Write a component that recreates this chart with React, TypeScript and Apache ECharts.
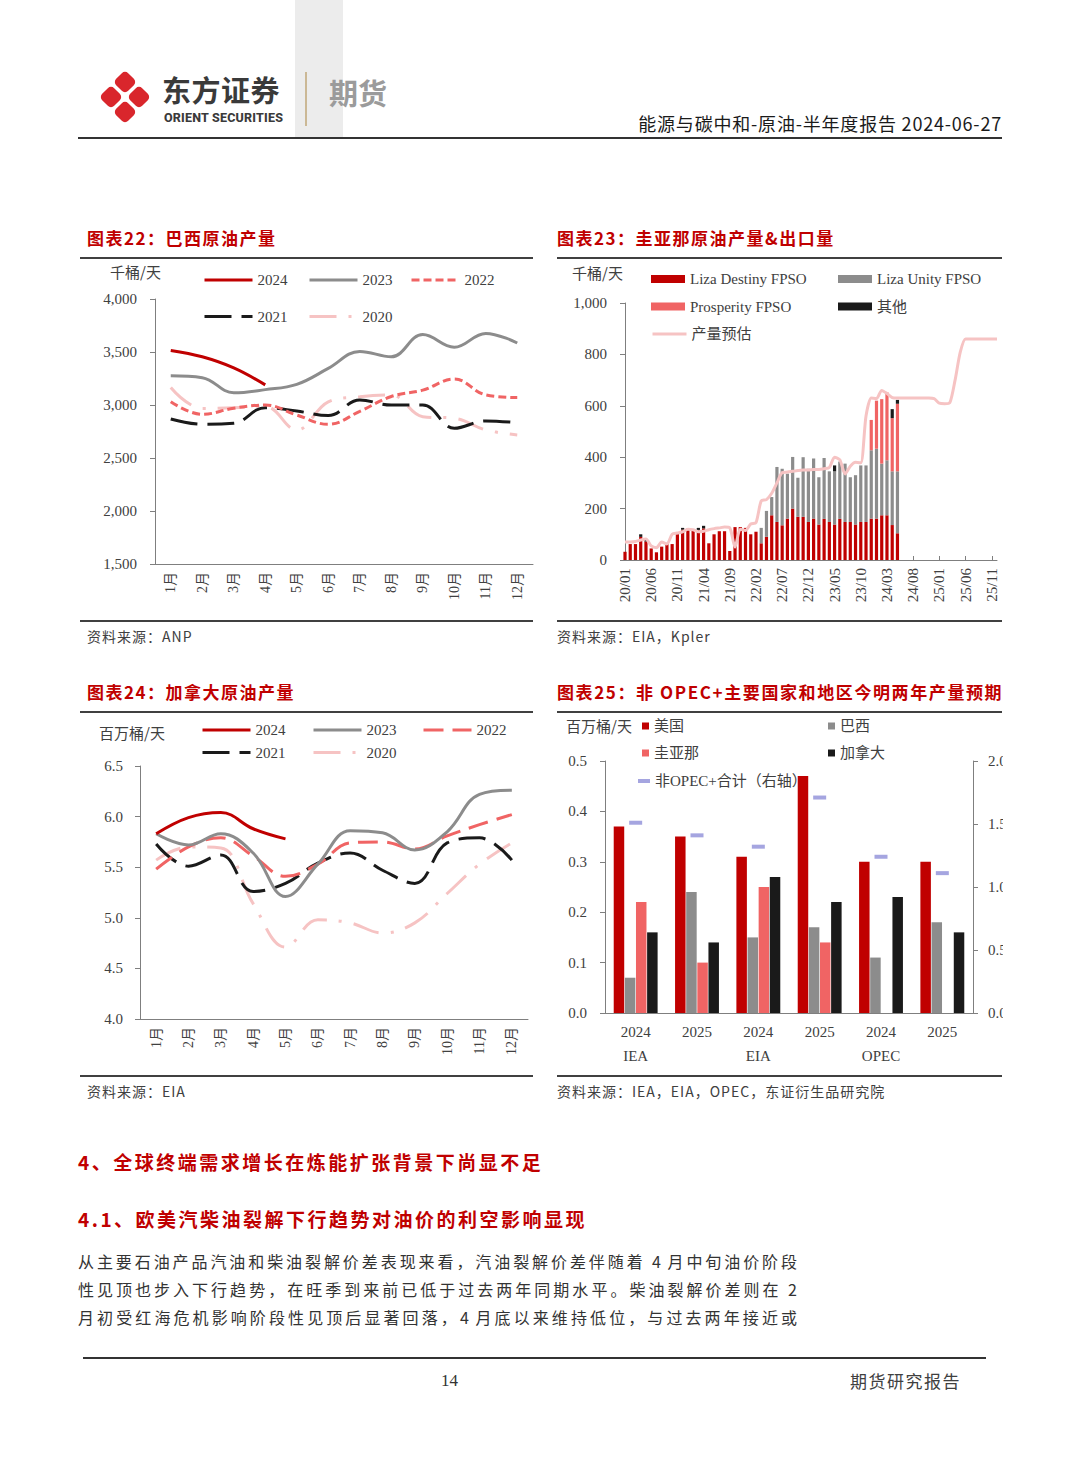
import React, { useEffect, useRef } from 'react';
import * as echarts from 'echarts';

// ---------- DATA ----------
const months = ['1月', '2月', '3月', '4月', '5月', '6月', '7月', '8月', '9月', '10月', '11月', '12月'];

// 图表22 巴西原油产量 (千桶/天)
const brazil2024 = [3515, 3455, 3350, 3190];
const brazil2023 = [3275, 3258, 3115, 3145, 3195, 3345, 3505, 3455, 3665, 3545, 3675, 3585];
const brazil2022 = [3030, 2912, 2970, 3000, 2905, 2818, 2940, 3080, 3140, 3245, 3095, 3070];
const brazil2021 = [2868, 2818, 2828, 2975, 2943, 2900, 3047, 3000, 3000, 2780, 2850, 2833];
const brazil2020 = [3165, 2968, 2975, 2985, 2765, 3030, 3078, 3094, 2890, 2875, 2765, 2718];

// 图表23 圭亚那原油产量 (千桶/天), monthly 20/01 .. 25/12
const guyanaMonths = [
  '20/01', '20/02', '20/03', '20/04', '20/05', '20/06', '20/07', '20/08', '20/09', '20/10', '20/11', '20/12',
  '21/01', '21/02', '21/03', '21/04', '21/05', '21/06', '21/07', '21/08', '21/09', '21/10', '21/11', '21/12',
  '22/01', '22/02', '22/03', '22/04', '22/05', '22/06', '22/07', '22/08', '22/09', '22/10', '22/11', '22/12',
  '23/01', '23/02', '23/03', '23/04', '23/05', '23/06', '23/07', '23/08', '23/09', '23/10', '23/11', '23/12',
  '24/01', '24/02', '24/03', '24/04', '24/05', '24/06', '24/07', '24/08', '24/09', '24/10', '24/11', '24/12',
  '25/01', '25/02', '25/03', '25/04', '25/05', '25/06', '25/07', '25/08', '25/09', '25/10', '25/11', '25/12',
];
const lizaDestiny = [32, 62, 62, 90, 72, 45, 30, 52, 65, 62, 102, 118, 122, 115, 117, 123, 65, 100, 112, 112, 35, 128, 128, 125, 100, 110, 65, 90, 174, 148, 135, 161, 200, 168, 168, 148, 161, 138, 160, 148, 138, 160, 148, 148, 138, 148, 148, 161, 161, 174, 174, 136, 104];
const lizaUnity = [0, 0, 0, 0, 0, 0, 0, 0, 0, 0, 0, 0, 0, 0, 0, 0, 0, 0, 0, 0, 0, 0, 0, 0, 0, 0, 60, 101, 71, 214, 220, 175, 201, 152, 232, 207, 234, 184, 237, 197, 207, 223, 227, 174, 192, 220, 220, 266, 272, 201, 214, 209, 241];
const prosperity = [0, 0, 0, 0, 0, 0, 0, 0, 0, 0, 0, 0, 0, 0, 0, 0, 0, 0, 0, 0, 0, 0, 0, 0, 0, 0, 0, 0, 0, 0, 0, 0, 0, 0, 0, 0, 0, 0, 0, 0, 0, 0, 0, 0, 0, 0, 0, 118, 187, 251, 264, 207, 263];
const others = [0, 0, 0, 10, 10, 0, 0, 0, 0, 0, 0, 7, 0, 0, 8, 10, 0, 0, 0, 0, 0, 0, 0, 0, 0, 0, 0, 0, 0, 0, 0, 0, 0, 0, 0, 0, 0, 0, 0, 0, 23, 0, 0, 0, 0, 0, 0, 0, 0, 0, 0, 35, 15];
const outputForecast = [
  70, 70, 72, 78, 82, 55, 48, 70, 62, 100, 105, 110,
  120, 118, 110, 112, 118, 122, 125, 128, 125, 50, 120, 115,
  140, 145, 230, 235, 260, 300, 340, 342, 345, 348, 350, 350,
  352, 352, 355, 360, 400, 390, 335, 365, 380, 378, 560, 630,
  628, 660, 648, 632, 630, 630, 630, 630, 630, 630, 630, 628,
  610, 608, 612, 700, 810, 860, 860, 860, 860, 860, 860, 860,
];

// 图表24 加拿大原油产量 (百万桶/天)
const canada2024 = [5.83, 5.99, 6.04, 5.88, 5.78];
const canada2023 = [5.83, 5.72, 5.83, 5.64, 5.21, 5.53, 5.86, 5.84, 5.67, 5.85, 6.22, 6.26];
const canada2022 = [5.48, 5.70, 5.79, 5.61, 5.41, 5.53, 5.74, 5.75, 5.68, 5.81, 5.92, 6.02];
const canada2021 = [5.73, 5.51, 5.62, 5.26, 5.34, 5.54, 5.64, 5.47, 5.34, 5.74, 5.79, 5.57];
const canada2020 = [5.57, 5.70, 5.69, 5.14, 4.71, 4.98, 4.95, 4.85, 4.95, 5.24, 5.53, 5.74];

// 图表25 非OPEC+主要国家和地区今明两年产量预期 (百万桶/天)
const forecastYears = ['2024', '2025', '2024', '2025', '2024', '2025'];
const forecastAgencies = ['IEA', '', 'EIA', '', 'OPEC', ''];
const growthUS = [0.37, 0.35, 0.31, 0.47, 0.30, 0.30];
const growthBrazil = [0.07, 0.24, 0.15, 0.17, 0.11, 0.18];
const growthGuyana = [0.22, 0.10, 0.25, 0.14, null, null];
const growthCanada = [0.16, 0.14, 0.27, 0.22, 0.23, 0.16];
const growthNonOpecTotal = [1.51, 1.41, 1.32, 1.71, 1.24, 1.11];

// ---------- STYLE ----------
const SERIF = "'Liberation Serif', 'Noto Sans CJK SC', serif";
const CJK = "'Noto Sans CJK SC', 'Noto Sans', sans-serif";
const RED = '#c00000';
const GRAY = '#8c8c8c';
const SALMON = '#f06464';
const BLACK = '#1a1a1a';
const PINK = '#f6c3c3';
const axisColor = '#7f7f7f';
const labelColor = '#404040';

const comma = (v: number) => v.toLocaleString('en-US');

function catAxis(gridIndex: number, data: string[], extra: any = {}) {
  return {
    type: 'category', gridIndex, data, boundaryGap: true,
    axisLine: { lineStyle: { color: axisColor, width: 1 } },
    axisTick: { inside: true, length: 5, lineStyle: { color: axisColor } },
    axisLabel: { rotate: 90, interval: 0, fontSize: 14, color: labelColor, fontFamily: SERIF, margin: 8 },
    ...extra,
  };
}
function valAxis(gridIndex: number, min: number, max: number, interval: number, fmt: any, margin: number, extra: any = {}) {
  return {
    type: 'value', gridIndex, min, max, interval,
    axisLine: { show: true, lineStyle: { color: axisColor, width: 1 } },
    axisTick: { show: true, length: 5, lineStyle: { color: axisColor } },
    splitLine: { show: false },
    axisLabel: { formatter: fmt, fontSize: 15, color: labelColor, fontFamily: SERIF, margin },
    ...extra,
  };
}
function lineS(name: string, data: any[], color: string, type: any, axis: number) {
  return {
    type: 'line', name, data, xAxisIndex: axis, yAxisIndex: axis, smooth: 0.4, symbol: 'none',
    lineStyle: { color, width: 3, type }, itemStyle: { color }, z: 3,
  };
}
function leg(name: string, left: number, cy: number, w: number, h: number, extra: any = {}) {
  return {
    data: [name], left, top: cy - 8, padding: 0, itemWidth: w, itemHeight: h, itemGap: 0,
    selectedMode: false,
    textStyle: { fontSize: 15, color: labelColor, fontFamily: SERIF, lineHeight: 16 },
    ...extra,
  };
}
// line-type legend: hide the symbol, keep a thick line; strip the one-letter series prefix
const lineLeg = {
  formatter: (n: string) => n.slice(1),
  itemStyle: { opacity: 0 },
  lineStyle: { width: 3, opacity: 1 },
};

function buildOption() {
  const grids = [
    { left: 155, top: 299, width: 378, height: 265 },
    { left: 625, top: 303, width: 372, height: 257 },
    { left: 140, top: 766, width: 388, height: 253 },
    { left: 605, top: 761, width: 368, height: 252 },
  ].map((g) => ({ ...g, outerBoundsMode: 'none', containLabel: false }));

  const xAxis = [
    catAxis(0, months),
    catAxis(1, guyanaMonths, {
      boundaryGap: false,
      axisTick: { inside: true, length: 4, interval: 4, lineStyle: { color: axisColor } },
      axisLabel: { rotate: 90, interval: 4, fontSize: 15, color: labelColor, fontFamily: SERIF, margin: 8 },
    }),
    catAxis(2, months),
    catAxis(3, forecastYears.map((y, i) => (forecastAgencies[i] ? y + '\n' + forecastAgencies[i] : y)), {
      axisTick: { inside: true, length: 4, lineStyle: { color: axisColor } },
      axisLabel: { rotate: 0, interval: 0, fontSize: 15, color: labelColor, fontFamily: SERIF, margin: 7, lineHeight: 24, verticalAlign: 'top' },
    }),
  ];
  const yAxis = [
    valAxis(0, 1500, 4000, 500, comma, 18),
    valAxis(1, 0, 1000, 200, comma, 18),
    valAxis(2, 4, 6.5, 0.5, (v: number) => v.toFixed(1), 17),
    valAxis(3, 0, 0.5, 0.1, (v: number) => v.toFixed(1), 18),
    valAxis(3, 0, 2, 0.5, (v: number) => v.toFixed(1), 15, { position: 'right' }),
  ];

  const dash22 = [8, 4];
  const dash21 = [27, 10];
  const dash20 = [27, 12, 3, 12];
  const dash22c = [20, 9];

  const series: any[] = [
    // chart 22
    lineS('b2020', brazil2020, PINK, dash20, 0),
    lineS('b2021', brazil2021, BLACK, dash21, 0),
    lineS('b2022', brazil2022, SALMON, dash22, 0),
    lineS('b2023', brazil2023, GRAY, 'solid', 0),
    lineS('b2024', brazil2024, RED, 'solid', 0),
    // chart 23
    { type: 'bar', name: 'Liza Destiny FPSO', data: lizaDestiny, xAxisIndex: 1, yAxisIndex: 1, stack: 'g', barWidth: 3.2, itemStyle: { color: RED } },
    { type: 'bar', name: 'Liza Unity FPSO', data: lizaUnity, xAxisIndex: 1, yAxisIndex: 1, stack: 'g', barWidth: 3.2, itemStyle: { color: GRAY } },
    { type: 'bar', name: 'Prosperity FPSO', data: prosperity, xAxisIndex: 1, yAxisIndex: 1, stack: 'g', barWidth: 3.2, itemStyle: { color: SALMON } },
    { type: 'bar', name: '其他', data: others, xAxisIndex: 1, yAxisIndex: 1, stack: 'g', barWidth: 3.2, itemStyle: { color: BLACK } },
    { type: 'line', name: 'x产量预估', data: outputForecast, xAxisIndex: 1, yAxisIndex: 1, smooth: 0.25, symbol: 'none', lineStyle: { color: PINK, width: 3 }, itemStyle: { color: PINK }, z: 4 },
    // chart 24
    lineS('c2020', canada2020, PINK, dash20, 2),
    lineS('c2021', canada2021, BLACK, dash21, 2),
    lineS('c2022', canada2022, SALMON, dash22c, 2),
    lineS('c2023', canada2023, GRAY, 'solid', 2),
    lineS('c2024', canada2024, RED, 'solid', 2),
    // chart 25
    { type: 'bar', name: '美国', data: growthUS, xAxisIndex: 3, yAxisIndex: 3, barWidth: 10.5, barGap: '6%', itemStyle: { color: RED }, z: 5 },
    { type: 'bar', name: '巴西', data: growthBrazil, xAxisIndex: 3, yAxisIndex: 3, barWidth: 10.5, barGap: '6%', itemStyle: { color: GRAY }, z: 5 },
    { type: 'bar', name: '圭亚那', data: growthGuyana, xAxisIndex: 3, yAxisIndex: 3, barWidth: 10.5, barGap: '6%', itemStyle: { color: SALMON }, z: 5 },
    { type: 'bar', name: '加拿大', data: growthCanada, xAxisIndex: 3, yAxisIndex: 3, barWidth: 10.5, barGap: '6%', itemStyle: { color: BLACK }, z: 5 },
    { type: 'scatter', name: '非OPEC+合计（右轴）', data: growthNonOpecTotal, xAxisIndex: 3, yAxisIndex: 4, symbol: 'rect', symbolSize: [13, 4], itemStyle: { color: '#8e8ed8' }, z: 6 },
  ];

  const rectLeg = (name: string, left: number, cy: number, w: number, h: number) =>
    leg(name, left, cy, w, h, { data: [{ name, icon: 'rect' }] });

  const legend = [
    // chart 22
    leg('b2024', 203, 280, 48, 14, lineLeg),
    leg('b2023', 308, 280, 48, 14, lineLeg),
    leg('b2022', 410, 280, 48, 14, lineLeg),
    leg('b2021', 203, 316.5, 48, 14, lineLeg),
    leg('b2020', 308, 316.5, 48, 14, lineLeg),
    // chart 23
    rectLeg('Liza Destiny FPSO', 651, 279, 34, 8),
    rectLeg('Liza Unity FPSO', 838, 279, 34, 8),
    rectLeg('Prosperity FPSO', 651, 306.5, 34, 8),
    rectLeg('其他', 838, 306.5, 34, 8),
    leg('x产量预估', 651, 334, 34, 14, lineLeg),
    // chart 24
    leg('c2024', 201, 730, 48, 14, lineLeg),
    leg('c2023', 312, 730, 48, 14, lineLeg),
    leg('c2022', 422, 730, 48, 14, lineLeg),
    leg('c2021', 201, 752.5, 48, 14, lineLeg),
    leg('c2020', 312, 752.5, 48, 14, lineLeg),
    // chart 25
    rectLeg('美国', 642, 726, 7, 7),
    rectLeg('巴西', 828, 726, 7, 7),
    rectLeg('圭亚那', 642, 753, 7, 7),
    rectLeg('加拿大', 828, 753, 7, 7),
    rectLeg('非OPEC+合计（右轴）', 638, 781, 12, 4),
  ];

  const unit = (text: string, x: number, y: number) => ({
    type: 'text', x, y, z: 10,
    style: { text, fill: labelColor, font: `15px ${CJK}`, verticalAlign: 'middle', align: 'left' },
  });

  return {
    animation: false,
    backgroundColor: 'transparent',
    grid: grids,
    xAxis,
    yAxis,
    legend,
    series,
    graphic: [
      unit('千桶/天', 110, 271),
      unit('千桶/天', 572, 272),
      unit('百万桶/天', 99, 732),
      unit('百万桶/天', 566, 725),
      { type: 'rect', z: 100, shape: { x: 1003, y: 745, width: 77, height: 290 }, style: { fill: '#ffffff' } },
    ],
  };
}

// ---------- HTML helpers ----------
function Txt(props: any) {
  const { x, y, size, color = '#333', weight = 400, family = CJK, ls = 0, right, lh = 1.2, children } = props;
  const h = size * lh;
  const style: any = {
    position: 'absolute', top: y - h / 2, height: h, lineHeight: `${h}px`, fontSize: size, color,
    fontWeight: weight, fontFamily: family, letterSpacing: ls, whiteSpace: 'nowrap',
  };
  if (right !== undefined) style.right = 1080 - right; else style.left = x;
  return <div style={style}>{children}</div>;
}
function HLine({ x1, x2, y, w = 1.5, color = '#333' }: any) {
  return <div style={{ position: 'absolute', left: x1, top: y - w / 2, width: x2 - x1, height: w, background: color }} />;
}
function JLine({ y, children }: any) {
  return (
    <div style={{
      position: 'absolute', left: 78, top: y - 12, width: 719, height: 24, lineHeight: '24px', fontSize: 16,
      color: '#333', fontFamily: CJK, textAlign: 'justify', textAlignLast: 'justify', whiteSpace: 'nowrap',
    }}>{children}</div>
  );
}

const paragraph = [
  '从主要石油产品汽油和柴油裂解价差表现来看，汽油裂解价差伴随着 4 月中旬油价阶段',
  '性见顶也步入下行趋势，在旺季到来前已低于过去两年同期水平。柴油裂解价差则在 2',
  '月初受红海危机影响阶段性见顶后显著回落，4 月底以来维持低位，与过去两年接近或',
];

export default function App() {
  const ref = useRef<HTMLDivElement>(null);
  useEffect(() => {
    if (!ref.current) return;
    const chart = echarts.init(ref.current, null, { renderer: 'svg', width: 1080, height: 1466 });
    chart.setOption(buildOption() as any);
    return () => chart.dispose();
  }, []);

  const logoRects = [
    [27, 14], [13, 29], [41, 29], [27, 44],
  ];

  return (
    <div style={{ position: 'absolute', left: 0, top: 0, width: 1080, height: 1466, background: '#fff', overflow: 'hidden' }}>
      {/* header */}
      <div style={{ position: 'absolute', left: 295, top: 0, width: 48, height: 137, background: '#ececec' }} />
      <div style={{ position: 'absolute', left: 305, top: 72, width: 1.5, height: 54, background: '#cbb895' }} />
      <svg style={{ position: 'absolute', left: 98, top: 68 }} width={56} height={60}>
        {logoRects.map(([cx, cy], i) => (
          <rect key={i} x={cx - 8.5} y={cy - 8.5} width={17} height={17} rx={4.5} ry={4.5}
            transform={`rotate(45 ${cx} ${cy})`} fill="#d9262c" />
        ))}
      </svg>
      <Txt x={162} y={89.5} size={29} lh={1.0} weight={700} color="#3a3a3a" ls={0.5}>东方证券</Txt>
      <Txt x={164} y={118.5} size={12.5} lh={1.0} weight={800} color="#3a3a3a" family="Roboto, 'Noto Sans', sans-serif" ls={0.2}>ORIENT SECURITIES</Txt>
      <Txt x={329} y={92} size={29} weight={700} color="#9b9b9b">期货</Txt>
      <Txt right={1002} y={124} size={18} color="#1a1a1a" ls={0.8}>能源与碳中和-原油-半年度报告 2024-06-27</Txt>
      <HLine x1={78} x2={1002} y={138} w={1.5} color="#333" />

      <div ref={ref} style={{ position: 'absolute', left: 0, top: 0, width: 1080, height: 1466 }} />

      {/* chart titles & sources */}
      <Txt x={87} y={238} size={17} weight={700} color={RED} ls={1.5}>图表22：巴西原油产量</Txt>
      <HLine x1={80} x2={533} y={258} w={1.2} color="#404040" />
      <Txt x={557} y={238} size={17} weight={700} color={RED} ls={1.5}>图表23：圭亚那原油产量&amp;出口量</Txt>
      <HLine x1={557} x2={1002} y={258} w={1.2} color="#404040" />
      <HLine x1={80} x2={533} y={621} w={1.2} color="#404040" />
      <HLine x1={557} x2={1002} y={621} w={1.2} color="#404040" />
      <Txt x={87} y={636} size={14} color="#404040" ls={1}>资料来源：ANP</Txt>
      <Txt x={557} y={636} size={14} color="#404040" ls={1}>资料来源：EIA，Kpler</Txt>

      <Txt x={87} y={692} size={17} weight={700} color={RED} ls={1.5}>图表24：加拿大原油产量</Txt>
      <HLine x1={80} x2={533} y={712} w={1.2} color="#404040" />
      <Txt x={557} y={692} size={17} weight={700} color={RED} ls={1.6}>图表25：非 OPEC+主要国家和地区今明两年产量预期</Txt>
      <HLine x1={557} x2={1002} y={712} w={1.2} color="#404040" />
      <HLine x1={80} x2={533} y={1076} w={1.2} color="#404040" />
      <HLine x1={557} x2={1002} y={1076} w={1.2} color="#404040" />
      <Txt x={87} y={1091} size={14} color="#404040" ls={1}>资料来源：EIA</Txt>
      <Txt x={557} y={1091} size={14} color="#404040" ls={1}>资料来源：IEA，EIA，OPEC，东证衍生品研究院</Txt>

      {/* body text */}
      <Txt x={78} y={1162} size={19} weight={700} color={RED} ls={2.5}>4、全球终端需求增长在炼能扩张背景下尚显不足</Txt>
      <Txt x={78} y={1219} size={19} weight={700} color={RED} ls={2.5}>4.1、欧美汽柴油裂解下行趋势对油价的利空影响显现</Txt>
      {paragraph.map((t, i) => <JLine key={i} y={1261 + i * 28}>{t}</JLine>)}

      {/* footer */}
      <HLine x1={83} x2={986} y={1358} w={1.5} color="#333" />
      <Txt x={441} y={1381} size={17} color="#333" family={SERIF}>14</Txt>
      <Txt x={850} y={1381} size={17} color="#404040" ls={1.5}>期货研究报告</Txt>
    </div>
  );
}
